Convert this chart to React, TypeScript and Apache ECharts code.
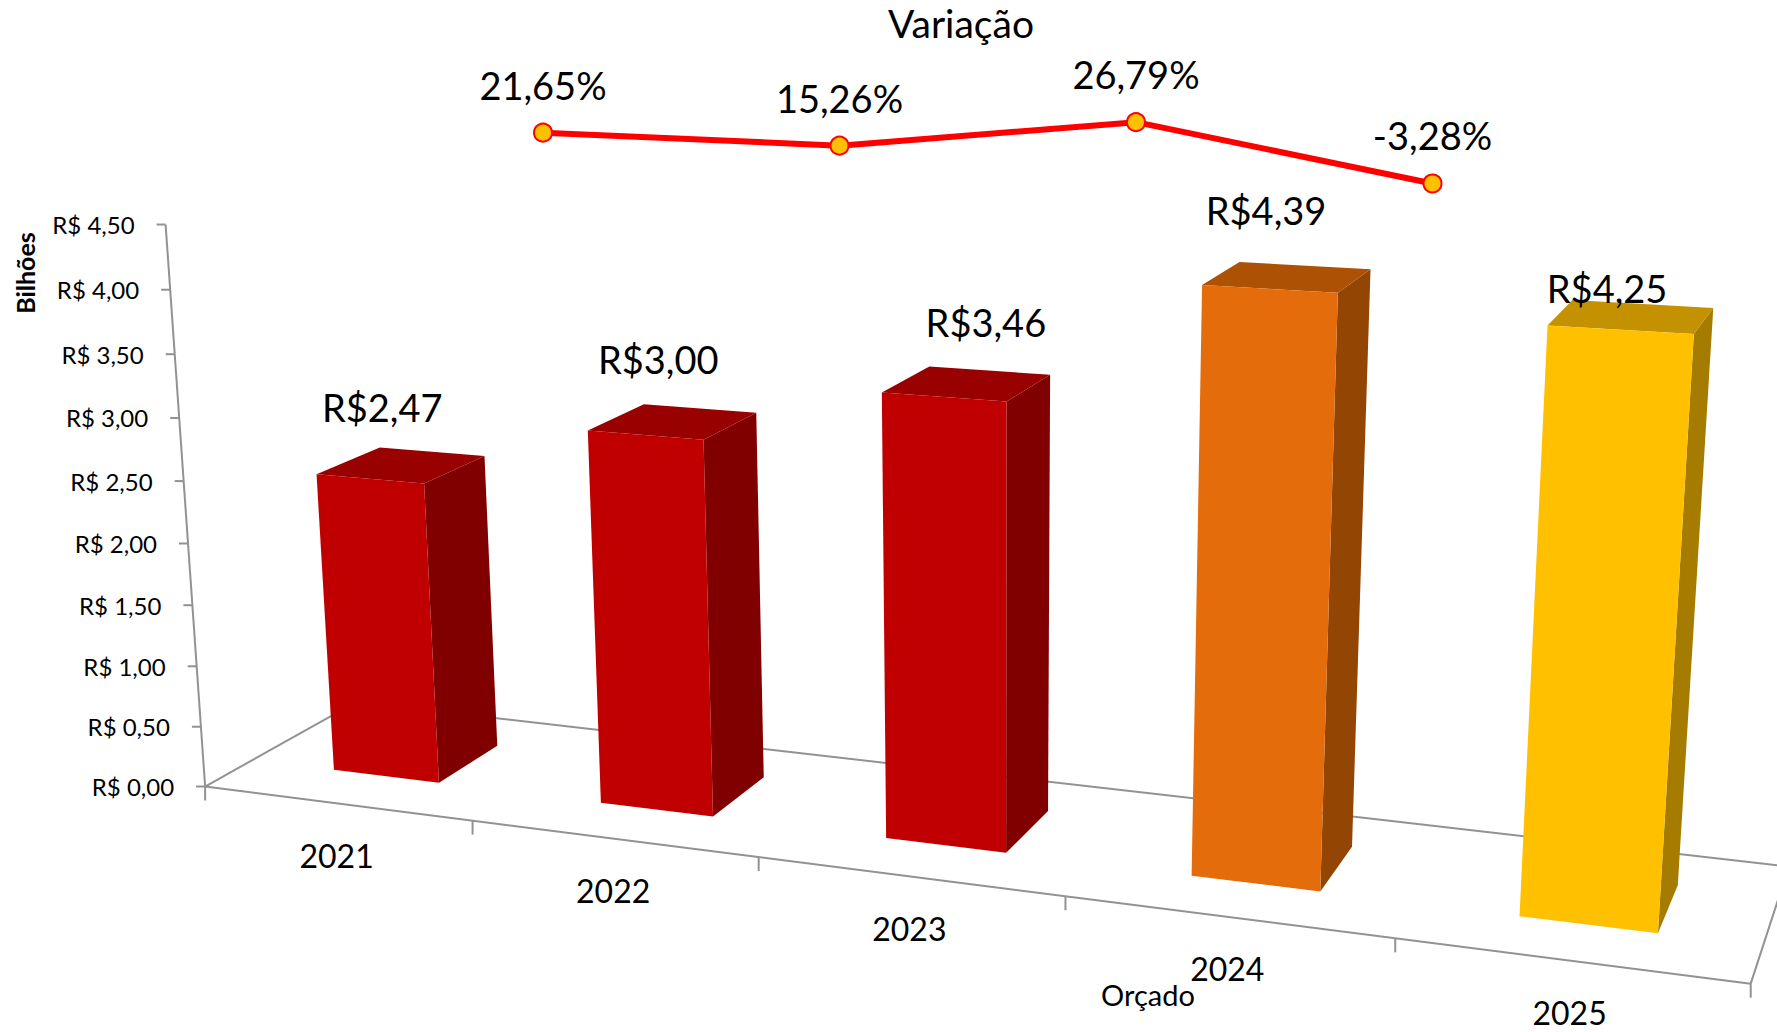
import React, { useEffect, useRef } from "react";
import * as echarts from "echarts";

const categories = ["2021", "2022", "2023", "2024", "2025"];
const revenue = [2.47, 3.0, 3.46, 4.39, 4.25];
const variation = [21.65, 15.26, 26.79, -3.28];
const yTicks = [0, 0.5, 1, 1.5, 2, 2.5, 3, 3.5, 4, 4.5];

const FONT = "Lato, Carlito, 'Open Sans', sans-serif";
const WIDTH = 1777;
const HEIGHT = 1032;
const K = 1777 / 1568;
const GRID = { left: 0, top: 0, width: 1000, height: 1000 };
const Y_MAX = 4.5;

// faces per bar: front, side, top
const faceColors = [
  ["#C00000", "#800000", "#990000"],
  ["#C00000", "#800000", "#990000"],
  ["#C00000", "#800000", "#990000"],
  ["#E46C0A", "#934504", "#AD5105"],
  ["#FFC000", "#A67C00", "#C49200"],
];
const labelNudge = [
  [-15, -56],
  [-11, -60],
  [22, -58],
  [-19, -63],
  [-23, -24],
];

// Perspective camera of the 3-D plot: X along categories, Y value, Z depth.
function project(X: number, Y: number, Z: number): number[] {
  const w = 1 - 0.0326 * X - 0.0106 * Y + 0.083 * Z;
  const x = 181 + 222.4 * X - 9.3 * Y + 159.2 * Z;
  const y = 694 + 6.5 * X - 112.3 * Y - 23 * Z;
  return [(K * x) / w, (K * y) / w];
}

// Reads the library's scale (flat hidden grid) and returns world X, Y.
function world(api: any, i: number, v: number) {
  const p = api.coord([i, v]);
  return {
    X: ((p[0] - GRID.left) / GRID.width) * categories.length,
    Y: ((GRID.top + GRID.height - p[1]) / GRID.height) * Y_MAX,
  };
}

const fmtMoney = (v: number) => "R$" + v.toFixed(2).replace(".", ",");
const fmtTick = (v: number) => "R$ " + v.toFixed(2).replace(".", ",");
const fmtPct = (v: number) => v.toFixed(2).replace(".", ",") + "%";

const AXIS = "#929292";
const Z_FRONT = 0.3;
const Z_BACK = 0.72;
const HALF = 0.2;
const BAR_DEPTH_SAG = 0.993; // the bars' plane sits a hair below the axis plane

function renderBar(params: any, api: any) {
  const i = api.value(0);
  const v = api.value(1);
  const { X, Y: rawY } = world(api, i, v);
  const Y = rawY * BAR_DEPTH_SAG;
  const shift = 0.017 - 0.0028 * X;
  const x0 = X - HALF + shift;
  const x1 = X + HALF + shift;
  const fbl = project(x0, 0, Z_FRONT);
  const fbr = project(x1, 0, Z_FRONT);
  const ftl = project(x0, Y, Z_FRONT);
  const ftr = project(x1, Y, Z_FRONT);
  const bbr = project(x1, 0, Z_BACK);
  const btr = project(x1, Y, Z_BACK);
  const btl = project(x0, Y, Z_BACK);
  const [front, side, top] = faceColors[i];
  const anchor = project(X, rawY, 0.51);
  const nudge = labelNudge[i];
  return {
    type: "group",
    children: [
      { type: "polygon", shape: { points: [fbr, bbr, btr, ftr] }, style: { fill: side } },
      { type: "polygon", shape: { points: [ftl, ftr, btr, btl] }, style: { fill: top } },
      { type: "polygon", shape: { points: [fbl, fbr, ftr, ftl] }, style: { fill: front } },
      {
        type: "text",
        z2: 10,
        style: {
          x: anchor[0] + nudge[0],
          y: anchor[1] + nudge[1],
          text: fmtMoney(v),
          fill: "#000",
          fontFamily: FONT,
          fontSize: 38,
          align: "center",
          verticalAlign: "middle",
        },
      },
    ],
  };
}

function renderFrame(params: any, api: any) {
  const n = categories.length;
  const line = (a: number[], b: number[], width = 2) => ({
    type: "line",
    shape: { x1: a[0], y1: a[1], x2: b[0], y2: b[1] },
    style: { stroke: AXIS, lineWidth: width },
  });
  const children: any[] = [
    line(project(0, 0, 0), project(0, 0, 1)),
    line(project(0, 0, 1), project(n, 0, 1)),
    line(project(n, 0, 1), project(n, 0, 0)),
    line(project(0, 0, 0), project(n, 0, 0)),
    line(project(0, 0, 0), project(0, Y_MAX, 0)),
  ];
  for (let i = 0; i <= n; i++) {
    const p = project(i, 0, 0);
    children.push(line(p, [p[0], p[1] + 14]));
  }
  categories.forEach((c, i) => {
    const { X } = world(api, i, 0);
    const p = project(X, 0, 0);
    children.push({
      type: "text",
      style: {
        x: p[0],
        y: p[1] + 52,
        text: c,
        fill: "#000",
        fontFamily: FONT,
        fontSize: 32,
        lineHeight: 28,
        align: "center",
        verticalAlign: "middle",
      },
    });
  });
  yTicks.forEach((t) => {
    const { Y } = world(api, 0, t);
    const p = project(0, Y, 0);
    children.push(line([p[0] - 9, p[1]], p));
    children.push({
      type: "text",
      style: {
        x: p[0] - 31,
        y: p[1],
        text: fmtTick(t),
        fill: "#000",
        fontFamily: FONT,
        fontSize: 24,
        align: "right",
        verticalAlign: "middle",
      },
    });
  });
  return { type: "group", children };
}

export default function App() {
  const ref = useRef<HTMLDivElement>(null);
  useEffect(() => {
    const chart = echarts.init(ref.current!, null, { renderer: "svg" });
    chart.setOption({
      animation: false,
      backgroundColor: "#fff",
      grid: [
        { ...GRID, show: false },
        { left: 543, top: 115.6, width: 889.5, height: 81.6, show: false },
      ],
      xAxis: [
        { type: "category", data: categories, gridIndex: 0, show: false },
        {
          type: "category",
          data: categories.slice(1),
          gridIndex: 1,
          boundaryGap: false,
          show: false,
        },
      ],
      yAxis: [
        { type: "value", min: 0, max: Y_MAX, interval: 0.5, gridIndex: 0, show: false },
        { type: "value", min: -10, max: 30, interval: 10, gridIndex: 1, show: false },
      ],
      graphic: [
        {
          type: "text",
          style: {
            x: 961,
            y: 23,
            text: "Variação",
            fill: "#000",
            fontFamily: FONT,
            fontSize: 39,
            align: "center",
            verticalAlign: "middle",
          },
        },
        {
          type: "text",
          style: {
            x: 1148,
            y: 994,
            text: "Orçado",
            fill: "#000",
            fontFamily: FONT,
            fontSize: 29,
            align: "center",
            verticalAlign: "middle",
          },
        },
        {
          type: "text",
          x: 25,
          y: 273,
          rotation: Math.PI / 2,
          style: {
            x: 0,
            y: 0,
            text: "Bilhões",
            fill: "#000",
            fontFamily: FONT,
            fontWeight: "bold",
            fontSize: 25,
            align: "center",
            verticalAlign: "middle",
          },
        },
      ],
      series: [
        {
          type: "custom",
          name: "Eixos",
          xAxisIndex: 0,
          yAxisIndex: 0,
          z: 1,
          silent: true,
          data: [[0, 0]],
          renderItem: renderFrame,
        },
        {
          type: "custom",
          name: "Orçado",
          xAxisIndex: 0,
          yAxisIndex: 0,
          z: 2,
          silent: true,
          data: revenue.map((v, i) => [i, v]),
          renderItem: renderBar,
        },
        {
          type: "line",
          name: "Variação",
          xAxisIndex: 1,
          yAxisIndex: 1,
          z: 3,
          data: variation,
          symbol: "circle",
          symbolSize: 18,
          lineStyle: { color: "#FF0000", width: 6 },
          itemStyle: { color: "#FFC000", borderColor: "#FF0000", borderWidth: 2 },
          label: {
            show: true,
            position: "top",
            distance: 19,
            color: "#000",
            fontFamily: FONT,
            fontSize: 38,
            formatter: (p: any) => fmtPct(p.value),
          },
        },
      ],
    });
    return () => chart.dispose();
  }, []);
  return (
    <div
      ref={ref}
      style={{ position: "fixed", left: 0, top: 0, width: WIDTH, height: HEIGHT }}
    />
  );
}
